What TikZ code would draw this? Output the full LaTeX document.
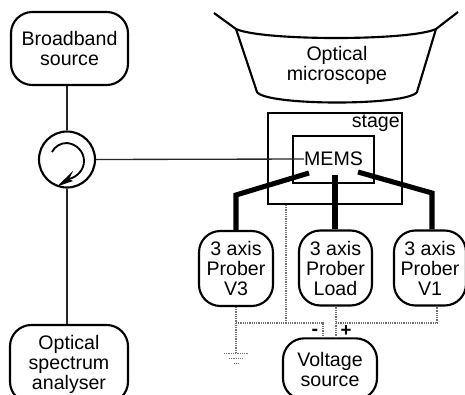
\documentclass[tikz,border=0pt]{standalone}
\usepackage{fontspec}
\setmainfont{Liberation Sans}
\usetikzlibrary{arrows.meta}
\tikzset{
  x=0.75pt,y=-0.75pt,
  txt/.style={font=\fontsize{14.7}{15}\selectfont,align=center,inner sep=0pt,text=black},
  box/.style={txt,draw=black,line width=1.6pt,rounded corners=16pt,fill=white},
  sq/.style={txt,draw=black,line width=1.4pt,fill=white},
  thin line/.style={draw=black!85,line width=1pt},
  probe/.style={draw=black,line width=3.8pt,line join=miter},
  dots/.style={draw=black!55,line width=0.9pt,dash pattern=on 0.75pt off 0.6pt},
}
\begin{document}
\begin{tikzpicture}
\useasboundingbox (0,0) rectangle (465,394);
\clip (0,0) rectangle (465,394);
% microscope
\draw[line width=1.6pt,line join=round] (214,13) -- (236,29) .. controls (262,41) and (410,41) .. (436,29) -- (458,12);
\draw[line width=1.6pt,line join=round] (236,29) -- (257,92) .. controls (266,106) and (408,106) .. (417,92) -- (436,29);
\node[txt] (micro) at (337,65) {Optical\\microscope};
% stage
\node[sq,minimum width=100.5pt,minimum height=68.25pt] (stage) at (335,158.5) {};
\node[txt,anchor=north east] (stagelabel) at (400,115) {stage};
\node[sq,minimum width=60.75pt,minimum height=35.25pt] (mems) at (333.5,159.5) {};
\node[txt] (memstext) at (333.5,159) {MEMS};
% boxes
\node[box,minimum width=87.75pt,minimum height=54.75pt] (bb) at (69.5,48.5) {Broadband\\source};
\node[circle,draw=black,line width=1.6pt,minimum size=42pt,inner sep=0pt,fill=white] (circ) at (67,159.5) {};
\node[box,minimum width=88.5pt,minimum height=58.5pt] (osa) at (69,364) {Optical\\spectrum\\analyser};
\node[box,minimum width=55.5pt,minimum height=56.25pt] (pv3) at (236,268.5) {3 axis\\Prober\\V3};
\node[box,minimum width=54.75pt,minimum height=56.25pt] (pl) at (335.5,268) {3 axis\\Prober\\Load};
\node[box,minimum width=54pt,minimum height=56.25pt] (pv1) at (430,268) {3 axis\\Prober\\V1};
\node[box,minimum width=70.5pt,minimum height=46pt] (vs) at (330,369) {Voltage\\source};
% optical connectors
\draw[thin line] (bb.south -| circ.north) -- (circ.north);
\draw[thin line] (circ.south) -- (osa.north -| circ.south);
\draw[thin line] (circ.east) -- (memstext.west);
% circulator arrow
\draw[line width=1.4pt] (52,152) .. controls (55,146) and (61,143) .. (67,143) .. controls (77,144) and (84,152) .. (84,161) .. controls (84,170) and (77,177) .. (69,179);
\fill (57,186.5) -- (73,171) -- (69,179) -- (73,181) -- cycle;
% probe arms
\coordinate (a1) at (309,173);
\coordinate (a2) at (236,195);
\coordinate (c1) at (335,175);
\coordinate (b1) at (358,172);
\coordinate (b2) at (432,193);
\draw[probe] (a1) -- (a2) -- (pv3.north -| a2);
\draw[probe] (c1) -- (pl.north -| c1);
\draw[probe] (b1) -- (b2) -- (pv1.north -| b2);
% dotted wiring
\coordinate (j1) at (236,323);
\coordinate (j2) at (286,323);
\coordinate (j3) at (323,323);
\coordinate (j4) at (336,323);
\coordinate (j5) at (437,323);
\coordinate (g) at (236,353.5);
\draw[dots] (stage.south -| j2) -- (j2);
\draw[dots] (pv3.south -| j1) -- (g);
\draw[dots] (j1) -- (j3) -- (vs.north -| j3);
\draw[dots] (pl.south -| j4) -- (vs.north -| j4);
\draw[dots] (j4) -- (j5) -- (pv1.south -| j5);
\draw[dots] (224,353.5) -- (248,353.5);
\draw[dots] (229,358.5) -- (243,358.5);
\draw[dots] (234,363.5) -- (238,363.5);
\node[txt,font=\fontsize{14.7}{15}\bfseries\selectfont] (minus) at (315,332) {-};
\node[txt,font=\fontsize{14}{15}\bfseries\selectfont] (plus) at (346,331) {+};
\end{tikzpicture}
\end{document}
